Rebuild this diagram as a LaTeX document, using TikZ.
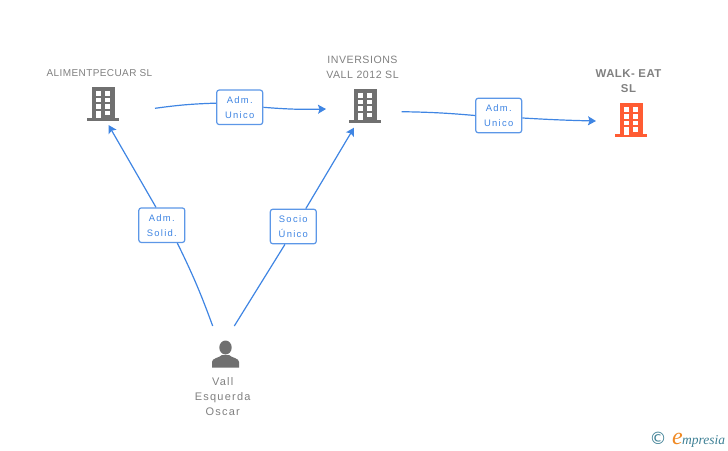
\documentclass[tikz,border=0pt]{standalone}
\usepackage{fontspec}
\setmainfont{Liberation Sans}
\newfontfamily\logofont{Liberation Serif}
\newfontfamily\symfont{DejaVu Sans}
\usetikzlibrary{arrows.meta}
\definecolor{linkblue}{HTML}{3F85E3}
\definecolor{labelgray}{HTML}{808080}
\definecolor{icongray}{HTML}{707070}
\definecolor{iconred}{HTML}{FF5C33}
\definecolor{logoteal}{HTML}{3E8095}
\definecolor{logoorange}{HTML}{F08A24}
\tikzset{
    link/.style={linkblue, line width=1.2pt},
    arrowlink/.style={link, -{Stealth[length=8pt, width=9pt, inset=1.5pt]}},
    rolebox/.style={draw=linkblue!85, line width=1.2pt, rounded corners=2.5pt, fill=white,
        minimum width=46pt, minimum height=34.5pt, inner sep=0pt, align=center,
        text=linkblue, font=\fontsize{9.4}{15}\selectfont\addfontfeatures{LetterSpace=14}},
    company/.style={text=labelgray, align=center, inner sep=0pt,
        font=\fontsize{10}{15}\selectfont\addfontfeatures{LetterSpace=4}},
    pics/building/.style={code={
        \fill[#1] (-16, 0) rectangle (16, -3);
        \fill[#1] (-11.3, 0) rectangle (11.3, -34);
        \foreach \wx in {-7.6, 2} {
            \foreach \wy in {-29.7, -23, -16.4} {
                \fill[white] (\wx, \wy) rectangle ++(5, 4.7);
            }
        }
        \fill[white] (-7.6, -9.7) rectangle (-2.6, -2.4);
        \fill[white] (2, -10) rectangle (7, -5.4);
    }}
}

\begin{document}
\begin{tikzpicture}[x=1pt, y=-1pt]
    \useasboundingbox (0, 0) rectangle (728, 450);

    % The three companies
    \pic at (103.2, 120.7) {building=icongray};
    \pic at (365.2, 122.7) {building=icongray};
    \pic at (631.2, 137) {building=iconred};
    \node[company] (alimentpecuar) at (99.5, 73) {ALIMENTPECUAR SL};
    \node[company, font=\fontsize{10.6}{15}\selectfont\addfontfeatures{LetterSpace=5}] (inversions) at (362.5, 67.5) {INVERSIONS\\VALL 2012 SL};
    \node[company, font=\fontsize{11.4}{15}\selectfont\bfseries\addfontfeatures{LetterSpace=4}] (walkeat) at (628.5, 81) {WALK- EAT\\SL};

    % The person
    \fill[icongray] (225.5, 347.5) ellipse (6.2 and 7);
    \fill[icongray] (212, 367.7) -- (212, 362) .. controls (212, 358) and (219, 358) .. (222, 355)
        -- (229, 355) .. controls (232, 358) and (239, 358) .. (239, 362) -- (239, 367.7) -- cycle;
    \node[company, font=\fontsize{11}{15}\selectfont\addfontfeatures{LetterSpace=11}] (oscar) at (222.7, 397) {Vall\\Esquerda\\Oscar};

    % Role labels
    \node[rolebox] (admone) at (239.7, 107.3) {Adm.\\Unico};
    \node[rolebox] (admtwo) at (498.7, 115.5) {Adm.\\Unico};
    \node[rolebox] (solid) at (161.8, 225.2) {Adm.\\Solid.};
    \node[rolebox] (socio) at (293.3, 226.5) {Socio\\Único};

    % Free ends of the links
    \coordinate (alimout) at (155, 108.3);
    \coordinate (invin) at (326, 109);
    \coordinate (invout) at (401.7, 111.7);
    \coordinate (walkin) at (596, 121);
    \coordinate (alimin) at (108.5, 125);
    \coordinate (invbelow) at (354, 127.7);
    \coordinate (oscarleft) at (212.7, 326);
    \coordinate (oscarright) at (234.3, 326);

    % Links along the top
    \draw[link] (alimout) to[bend left=3] (admone.170);
    \draw[arrowlink] (admone.east) to[bend right=3] (invin);
    \draw[link] (invout) to[bend left=2] (admtwo.west);
    \draw[arrowlink] (admtwo.-6) to[bend right=1] (walkin);

    % Links from the person
    \draw[link] (oscarleft) to[bend right=3] (solid.-49);
    \draw[arrowlink] (solid.108) -- (alimin);
    \draw[link] (oscarright) -- (socio.-115);
    \draw[arrowlink] (socio.55) -- (invbelow);

    % Logo
    \node[text=logoteal, inner sep=0pt, font=\symfont\fontsize{17}{17}\selectfont] (copyright) at (658, 438.5) {©};
    \node[text=logoorange, inner sep=0pt, anchor=base west, font=\logofont\itshape\fontsize{24}{24}\selectfont] (logoe) at (672, 444) {e};
    \node[text=logoteal, inner sep=0pt, anchor=base west, font=\logofont\itshape\fontsize{13.5}{13.5}\selectfont] (logoname) at (682, 444) {mpresia};
\end{tikzpicture}
\end{document}
